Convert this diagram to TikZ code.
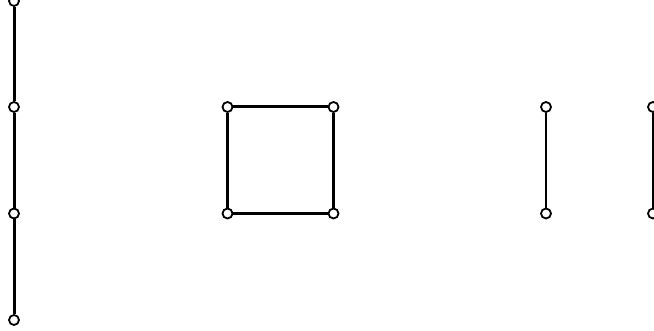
\documentclass[tikz,border=0pt]{standalone}
\usepackage{tikz}

\begin{document}
\begin{tikzpicture}[
	x=1pt, y=-1pt,
	vtx/.style={circle, draw=black, fill=white, line width=1.8pt, inner sep=0pt, minimum size=10pt},
	thick edge/.style={draw=black, line width=3pt},
	thin edge/.style={draw=black, line width=2.2pt}
	]
\useasboundingbox (0,0) rectangle (654,331);

% path
\node[vtx] (p1) at (14,1) {};
\node[vtx] (p2) at (14,107) {};
\node[vtx] (p3) at (14,213.5) {};
\node[vtx] (p4) at (14,320) {};

% square
\node[vtx] (q1) at (227.5,107) {};
\node[vtx] (q2) at (333.5,107) {};
\node[vtx] (q3) at (333.5,213.5) {};
\node[vtx] (q4) at (227.5,213.5) {};

% single edges
\node[vtx] (a1) at (546,107) {};
\node[vtx] (a2) at (546,213.5) {};
\node[vtx] (b1) at (653,107) {};
\node[vtx] (b2) at (653,213.5) {};

\foreach \u/\v in {p1/p2,p2/p3,p3/p4,q1/q2,q2/q3,q3/q4,q4/q1,b1/b2}
  \draw[thick edge] (\u) -- (\v);
\draw[thin edge] (a1) -- (a2);
\end{tikzpicture}
\end{document}
